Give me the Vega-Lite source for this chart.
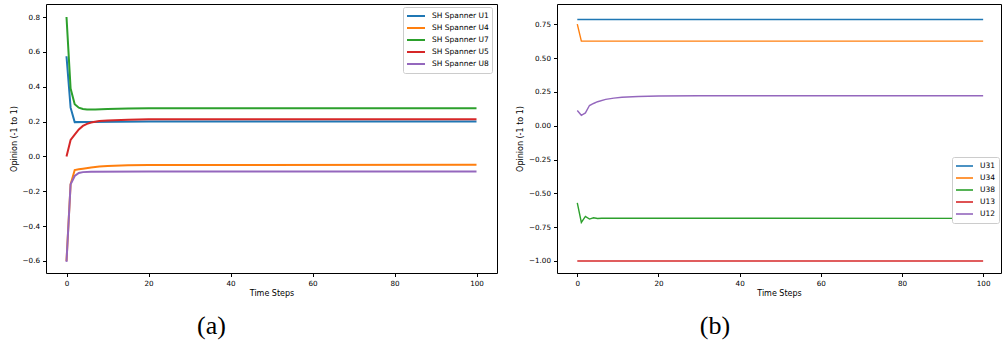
{
  "$schema": "https://vega.github.io/schema/vega-lite/v6.json",
  "background": "white",
  "padding": {"left": 9, "top": 3, "right": 0, "bottom": 0},
  "spacing": 17,
  "config": {
    "view": {"stroke": "#000000", "strokeWidth": 1},
    "axis": {
      "domain": false, "grid": false, "tickColor": "#000000", "tickSize": 3.5, "tickWidth": 1,
      "labelFont": "DejaVu Sans", "labelFontSize": 7.2, "labelColor": "#000000", "labelPadding": 3,
      "titleFont": "DejaVu Sans", "titleFontSize": 8, "titleFontWeight": "normal", "titleColor": "#000000"
    },
    "legend": {
      "title": null, "orient": "none", "labelFont": "DejaVu Sans", "labelFontSize": 7.5, "labelColor": "#000000",
      "symbolType": "stroke", "symbolSize": 324, "symbolStrokeWidth": 2, "fillColor": "white",
      "strokeColor": "#cccccc", "padding": 3, "cornerRadius": 2, "rowPadding": 0, "clipHeight": 11.8, "labelOffset": 6
    },
    "title": {"font": "Liberation Serif", "fontSize": 26, "fontWeight": "normal", "color": "#000000", "orient": "bottom", "anchor": "middle", "offset": 15}
  },
  "datasets": {
    "a": [
      {"series": "SH Spanner U1", "t": 0, "v": 0.575}, {"series": "SH Spanner U1", "t": 1, "v": 0.28}, {"series": "SH Spanner U1", "t": 2, "v": 0.197}, {"series": "SH Spanner U1", "t": 5, "v": 0.198}, {"series": "SH Spanner U1", "t": 20, "v": 0.2}, {"series": "SH Spanner U1", "t": 100, "v": 0.201},
      {"series": "SH Spanner U4", "t": 0, "v": -0.6}, {"series": "SH Spanner U4", "t": 1, "v": -0.16}, {"series": "SH Spanner U4", "t": 2, "v": -0.078}, {"series": "SH Spanner U4", "t": 3, "v": -0.074}, {"series": "SH Spanner U4", "t": 4, "v": -0.07}, {"series": "SH Spanner U4", "t": 6, "v": -0.063}, {"series": "SH Spanner U4", "t": 8, "v": -0.058}, {"series": "SH Spanner U4", "t": 10, "v": -0.055}, {"series": "SH Spanner U4", "t": 15, "v": -0.051}, {"series": "SH Spanner U4", "t": 20, "v": -0.049}, {"series": "SH Spanner U4", "t": 100, "v": -0.048},
      {"series": "SH Spanner U7", "t": 0, "v": 0.8}, {"series": "SH Spanner U7", "t": 1, "v": 0.39}, {"series": "SH Spanner U7", "t": 2, "v": 0.3}, {"series": "SH Spanner U7", "t": 3, "v": 0.28}, {"series": "SH Spanner U7", "t": 4, "v": 0.272}, {"series": "SH Spanner U7", "t": 5, "v": 0.27}, {"series": "SH Spanner U7", "t": 7, "v": 0.27}, {"series": "SH Spanner U7", "t": 10, "v": 0.273}, {"series": "SH Spanner U7", "t": 15, "v": 0.275}, {"series": "SH Spanner U7", "t": 20, "v": 0.276}, {"series": "SH Spanner U7", "t": 100, "v": 0.276},
      {"series": "SH Spanner U5", "t": 0, "v": 0.0}, {"series": "SH Spanner U5", "t": 1, "v": 0.095}, {"series": "SH Spanner U5", "t": 2, "v": 0.125}, {"series": "SH Spanner U5", "t": 3, "v": 0.155}, {"series": "SH Spanner U5", "t": 4, "v": 0.175}, {"series": "SH Spanner U5", "t": 5, "v": 0.187}, {"series": "SH Spanner U5", "t": 6, "v": 0.195}, {"series": "SH Spanner U5", "t": 8, "v": 0.203}, {"series": "SH Spanner U5", "t": 10, "v": 0.207}, {"series": "SH Spanner U5", "t": 15, "v": 0.211}, {"series": "SH Spanner U5", "t": 20, "v": 0.213}, {"series": "SH Spanner U5", "t": 100, "v": 0.214},
      {"series": "SH Spanner U8", "t": 0, "v": -0.605}, {"series": "SH Spanner U8", "t": 1, "v": -0.16}, {"series": "SH Spanner U8", "t": 2, "v": -0.112}, {"series": "SH Spanner U8", "t": 3, "v": -0.095}, {"series": "SH Spanner U8", "t": 4, "v": -0.09}, {"series": "SH Spanner U8", "t": 6, "v": -0.088}, {"series": "SH Spanner U8", "t": 20, "v": -0.086}, {"series": "SH Spanner U8", "t": 100, "v": -0.086}
    ],
    "b": [
      {"series": "U31", "t": 0, "v": 0.786}, {"series": "U31", "t": 100, "v": 0.786},
      {"series": "U34", "t": 0, "v": 0.752}, {"series": "U34", "t": 1, "v": 0.626}, {"series": "U34", "t": 100, "v": 0.626},
      {"series": "U38", "t": 0, "v": -0.57}, {"series": "U38", "t": 1, "v": -0.715}, {"series": "U38", "t": 2, "v": -0.67}, {"series": "U38", "t": 3, "v": -0.69}, {"series": "U38", "t": 4, "v": -0.68}, {"series": "U38", "t": 5, "v": -0.686}, {"series": "U38", "t": 6, "v": -0.684}, {"series": "U38", "t": 100, "v": -0.685},
      {"series": "U13", "t": 0, "v": -1.0}, {"series": "U13", "t": 100, "v": -1.0},
      {"series": "U12", "t": 0, "v": 0.113}, {"series": "U12", "t": 1, "v": 0.078}, {"series": "U12", "t": 2, "v": 0.095}, {"series": "U12", "t": 3, "v": 0.15}, {"series": "U12", "t": 4, "v": 0.165}, {"series": "U12", "t": 5, "v": 0.178}, {"series": "U12", "t": 7, "v": 0.195}, {"series": "U12", "t": 9, "v": 0.205}, {"series": "U12", "t": 11, "v": 0.211}, {"series": "U12", "t": 15, "v": 0.217}, {"series": "U12", "t": 20, "v": 0.22}, {"series": "U12", "t": 30, "v": 0.222}, {"series": "U12", "t": 100, "v": 0.222}
    ]
  },
  "hconcat": [
    {
      "width": 451, "height": 269,
      "data": {"name": "a"},
      "title": {"text": "(a)", "dx": -60},
      "mark": {"type": "line", "strokeWidth": 2, "clip": true},
      "encoding": {
        "x": {"field": "t", "type": "quantitative", "scale": {"domain": [-5, 105], "nice": false, "zero": false},
              "axis": {"values": [0, 20, 40, 60, 80, 100], "title": "Time Steps", "titlePadding": 3}},
        "y": {"field": "v", "type": "quantitative", "scale": {"domain": [-0.669, 0.875], "nice": false, "zero": false},
              "axis": {"values": [-0.6, -0.4, -0.2, 0, 0.2, 0.4, 0.6, 0.8], "format": ".1f", "title": "Opinion (-1 to 1)", "titlePadding": 4}},
        "color": {"field": "series", "type": "nominal",
                  "scale": {"domain": ["SH Spanner U1", "SH Spanner U4", "SH Spanner U7", "SH Spanner U5", "SH Spanner U8"], "range": ["#1f77b4", "#ff7f0e", "#2ca02c", "#d62728", "#9467bd"]},
                  "legend": {"legendX": 357, "legendY": 3}}
      }
    },
    {
      "width": 444, "height": 269,
      "data": {"name": "b"},
      "title": {"text": "(b)", "dx": -64},
      "mark": {"type": "line", "strokeWidth": 1.4, "clip": true},
      "encoding": {
        "x": {"field": "t", "type": "quantitative", "scale": {"domain": [-5, 104.4], "nice": false, "zero": false},
              "axis": {"values": [0, 20, 40, 60, 80, 100], "title": "Time Steps", "titlePadding": 3}},
        "y": {"field": "v", "type": "quantitative", "scale": {"domain": [-1.089, 0.901], "nice": false, "zero": false},
              "axis": {"values": [-1, -0.75, -0.5, -0.25, 0, 0.25, 0.5, 0.75], "format": ".2f", "title": "Opinion (-1 to 1)", "titlePadding": 4}},
        "color": {"field": "series", "type": "nominal",
                  "scale": {"domain": ["U31", "U34", "U38", "U13", "U12"], "range": ["#1f77b4", "#ff7f0e", "#2ca02c", "#d62728", "#9467bd"]},
                  "legend": {"legendX": 395, "legendY": 153, "symbolSize": 289, "symbolStrokeWidth": 1.6, "clipHeight": 12}}
      }
    }
  ],
  "resolve": {"scale": {"color": "independent", "x": "independent", "y": "independent"}}
}
